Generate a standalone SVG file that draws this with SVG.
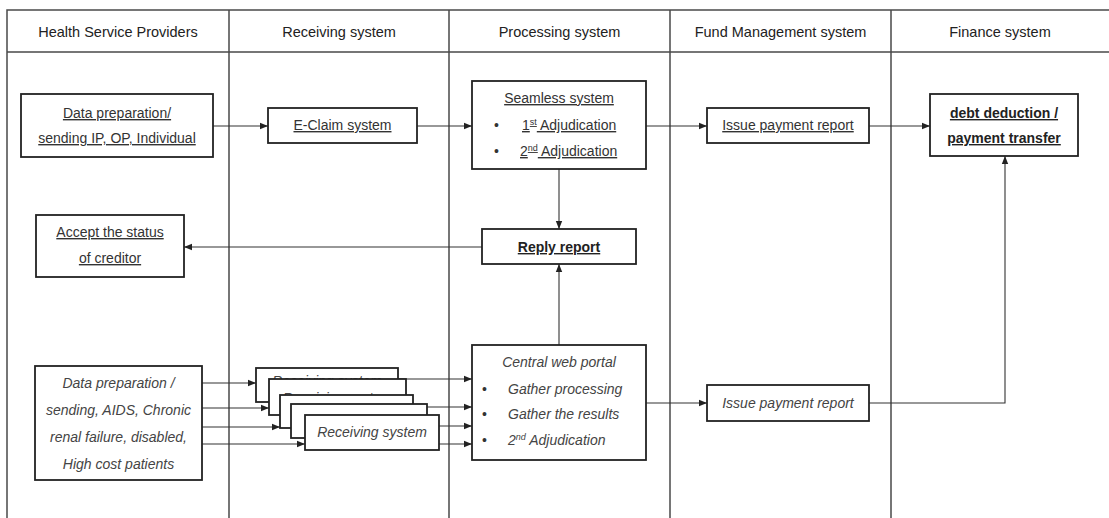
<svg xmlns="http://www.w3.org/2000/svg" width="1109" height="518" viewBox="0 0 1109 518">
<style>
.frame{stroke:#4a4a4a;stroke-width:1.5;fill:none}
.box{fill:#fff;stroke:#222;stroke-width:1.8}
.conn{stroke:#333;stroke-width:1.1;fill:none;marker-end:url(#ah)}
text{font-family:"Liberation Sans",Arial,sans-serif;font-size:14px;fill:#333}
.hd{font-size:14.5px;fill:#222;text-anchor:middle}
.c{text-anchor:middle}
.u{text-decoration:underline}
.b{font-weight:bold;fill:#222}
.i{font-style:italic;fill:#444}
.sup{font-size:9px}
</style>
<defs>
<marker id="ah" viewBox="0 0 8 8" refX="8" refY="4" markerWidth="8" markerHeight="8" markerUnits="userSpaceOnUse" orient="auto">
<path d="M0,0.8 L8,4 L0,7.2 Z" fill="#222"/>
</marker>
</defs>
<rect width="1109" height="518" fill="#fff"/>
<g id="lanes">
<path class="frame" d="M7,518 V10 H1109 M7,52 H1109 M229,10 V518 M449,10 V518 M670,10 V518 M891,10 V518"/>
<text class="hd" x="118" y="37">Health Service Providers</text>
<text class="hd" x="339" y="37">Receiving system</text>
<text class="hd" x="559.5" y="37">Processing system</text>
<text class="hd" x="780.5" y="37">Fund Management system</text>
<text class="hd" x="1000" y="37">Finance system</text>
</g>
<g id="connectors">
<line class="conn" x1="213" y1="126" x2="268" y2="126"/>
<line class="conn" x1="417" y1="126" x2="472" y2="126"/>
<line class="conn" x1="646" y1="126" x2="707" y2="126"/>
<line class="conn" x1="869" y1="126" x2="930" y2="126"/>
<line class="conn" x1="559" y1="169" x2="559" y2="229"/>
<line class="conn" x1="482" y1="247" x2="184" y2="247"/>
<line class="conn" x1="559" y1="345" x2="559" y2="264"/>
<line class="conn" x1="202" y1="383" x2="256" y2="383"/>
<line class="conn" x1="202" y1="408" x2="269" y2="408"/>
<line class="conn" x1="202" y1="427" x2="280" y2="427"/>
<line class="conn" x1="202" y1="444" x2="305" y2="444"/>
<line class="conn" x1="398" y1="379" x2="472" y2="379"/>
<line class="conn" x1="406" y1="407" x2="472" y2="407"/>
<line class="conn" x1="413" y1="426" x2="472" y2="426"/>
<line class="conn" x1="439" y1="444" x2="472" y2="444"/>
<line class="conn" x1="646" y1="403" x2="707" y2="403"/>
<polyline class="conn" points="869,403 1005,403 1005,156"/>
</g>
<g id="data-prep-ip-op">
<rect class="box" x="21" y="94" width="192" height="63"/>
<text class="c u" x="117" y="118">Data preparation/</text>
<text class="c u" x="117" y="143">sending IP, OP, Individual</text>
</g>
<g id="e-claim">
<rect class="box" x="268" y="108" width="149" height="35"/>
<text class="c u" x="342.5" y="130">E-Claim system</text>
</g>
<g id="seamless">
<rect class="box" x="472" y="81" width="174" height="88"/>
<text class="c u" x="559" y="103">Seamless system</text>
<text x="494" y="130">•</text>
<text class="u" x="522" y="130">1<tspan class="sup" dy="-5">st</tspan><tspan dy="5"> Adjudication</tspan></text>
<text x="494" y="156">•</text>
<text class="u" x="520" y="156">2<tspan class="sup" dy="-5">nd</tspan><tspan dy="5"> Adjudication</tspan></text>
</g>
<g id="issue-payment-1">
<rect class="box" x="707" y="108" width="162" height="35"/>
<text class="c u" x="788" y="130">Issue payment report</text>
</g>
<g id="debt-deduction">
<rect class="box" x="930" y="94" width="148" height="62"/>
<text class="c u b" x="1004" y="118">debt deduction /</text>
<text class="c u b" x="1004" y="143">payment transfer</text>
</g>
<g id="reply-report">
<rect class="box" x="482" y="229" width="154" height="35"/>
<text class="c u b" x="559" y="252">Reply report</text>
</g>
<g id="accept-status">
<rect class="box" x="36" y="215" width="148" height="62"/>
<text class="c u" x="110" y="237">Accept the status</text>
<text class="c u" x="110" y="263">of creditor</text>
</g>
<g id="data-prep-special">
<rect class="box" x="35" y="366" width="167" height="114"/>
<text class="c i" x="118.5" y="388">Data preparation /</text>
<text class="c i" x="118.5" y="415">sending, AIDS, Chronic</text>
<text class="c i" x="118.5" y="442">renal failure, disabled,</text>
<text class="c i" x="118.5" y="469">High cost patients</text>
</g>
<g id="receiving-stack">
<rect class="box" x="256" y="368" width="142" height="34"/>
<text class="c i" x="327" y="386">Receiving system</text>
<rect class="box" x="269" y="379" width="137" height="36"/>
<text class="c i" x="337.5" y="403">Receiving system</text>
<rect class="box" x="280" y="395" width="133" height="33"/>
<rect class="box" x="291" y="404" width="136" height="34"/>
<rect class="box" x="305" y="415" width="134" height="35"/>
<text class="c i" x="372" y="437">Receiving system</text>
</g>
<g id="central-web-portal">
<rect class="box" x="472" y="345" width="174" height="115"/>
<text class="c i" x="559" y="367">Central web portal</text>
<text x="482" y="394">•</text>
<text class="i" x="508" y="394">Gather processing</text>
<text x="482" y="419">•</text>
<text class="i" x="508" y="419">Gather the results</text>
<text x="482" y="445">•</text>
<text class="i" x="508" y="445">2<tspan class="sup" dy="-5">nd</tspan><tspan dy="5"> Adjudication</tspan></text>
</g>
<g id="issue-payment-2">
<rect class="box" x="707" y="385" width="162" height="36"/>
<text class="c i" x="788" y="408">Issue payment report</text>
</g>
</svg>
